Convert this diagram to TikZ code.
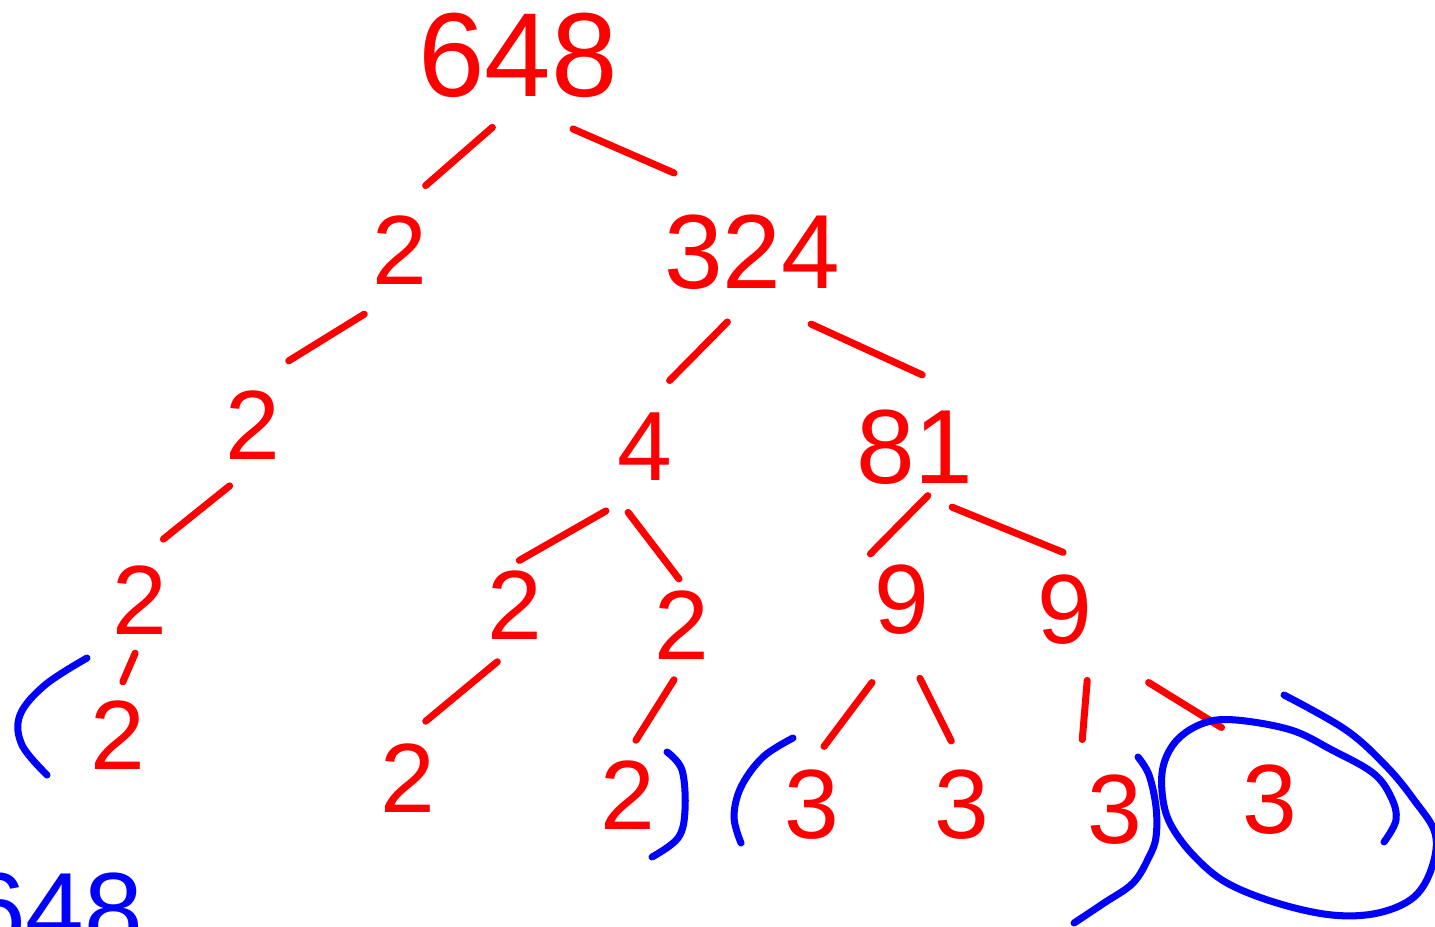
\documentclass[tikz,border=0pt]{standalone}
\usepackage{fontspec}
\setmainfont{Liberation Sans}
\usetikzlibrary{positioning}
\definecolor{pen}{RGB}{255,0,0}
\definecolor{ink}{RGB}{0,0,255}

\begin{document}
\begin{tikzpicture}[
  num/.style={text=pen, inner sep=2pt, font=\fontsize{28}{30}\selectfont},
  bignum/.style={num, font=\fontsize{34}{36}\selectfont},
  midnum/.style={num, font=\fontsize{30}{32}\selectfont},
  branch/.style={draw=pen, line width=2pt, line cap=round, shorten <=#1, shorten >=#1},
  branch/.default=2mm,
  ring/.style={draw=ink, line width=2pt, line cap=round, line join=round}
]
\useasboundingbox (0,0) rectangle (14.35,-9.27);

% factor tree
\node[bignum] (n648) at (5.18,-0.55) {648};
\node[num]    (n2a)  at (4.00,-2.50) {2};
\node[midnum] (n324) at (7.52,-2.52) {324};
\node[num]    (n2b)  at (2.53,-4.25) {2};
\node[num]    (n4)   at (6.45,-4.47) {4};
\node[midnum] (n81)  at (9.15,-4.47) {81};
\node[num]    (n2c)  at (1.40,-6.00) {2};
\node[num]    (n2d)  at (5.15,-6.05) {2};
\node[num]    (n2e)  at (6.82,-6.25) {2};
\node[num]    (n9a)  at (9.02,-6.00) {9};
\node[num]    (n9b)  at (10.65,-6.10) {9};
\node[num]    (n2f)  at (1.18,-7.35) {2};
\node[num]    (n2g)  at (4.08,-7.78) {2};
\node[num]    (n2h)  at (6.28,-7.95) {2};
\node[num]    (n3a)  at (8.12,-8.05) {3};
\node[num]    (n3b)  at (9.62,-8.05) {3};
\node[num]    (n3c)  at (11.15,-8.10) {3};
\node[num]    (n3d)  at (12.70,-8.00) {3};

\draw[branch=3.4mm] (n648.south) -- (n2a.north);
\draw[branch=8.5mm, shorten <=6mm] (n648.south) -- (n324.north);
\draw[branch=4.2mm] (n2a.south) -- (n2b.north);
\draw[branch=3.5mm] (n324.south) -- (n4.north);
\draw[branch=6.5mm] (n324.south) -- (n81.north east);
\draw[branch=3mm]   (n2b.south) -- (n2c.north);
\draw[branch=0.5mm, shorten <=4.5mm] (n4.south) -- (n2d.north);
\draw[branch=0.5mm, shorten <=3mm] (n4.south west) -- (n2e.north);
\draw[branch=0.5mm] (n81.-70) -- (n9a.north west);
\draw[branch=4mm]   (n81.south) -- (n9b.north east);
\draw[branch=1.2mm] (n2c.south) -- (n2f.north);
\draw[branch=2.3mm] (n2d.south) -- (n2g.north);
\draw[branch=1.5mm] (n2e.south) -- (n2h.north);
\draw[branch=2mm, shorten <=5mm] (n9a.south) -- (n3a.north);
\draw[branch=2.4mm, shorten <=4mm] (n9a.south) -- (n3b.north);
\draw[branch=2.8mm] (n9b.-60) -- (n3c.north west);
\draw[branch=5.7mm] (n9b.south east) -- (n3d.north);

% blue grouping marks
\draw[ring] plot[smooth, tension=0.6] coordinates {(0.87,-6.58) (0.45,-6.85) (0.20,-7.15) (0.22,-7.45) (0.47,-7.75)};
\draw[ring] plot[smooth, tension=0.6] coordinates {(6.67,-7.52) (6.82,-7.70) (6.85,-8.10) (6.78,-8.38) (6.52,-8.57)};
\draw[ring] plot[smooth, tension=0.6] coordinates {(7.93,-7.38) (7.63,-7.57) (7.41,-7.87) (7.34,-8.17) (7.41,-8.43)};
\draw[ring] plot[smooth, tension=0.6] coordinates {(11.38,-7.57) (11.49,-7.75) (11.56,-8.07) (11.56,-8.37) (11.49,-8.57) (11.33,-8.83) (11.04,-9.03) (10.74,-9.23)};
\draw[ring] plot[smooth, tension=0.6] coordinates {(13.84,-8.42) (13.96,-8.20) (13.91,-7.97) (13.73,-7.73) (13.32,-7.50) (12.91,-7.30) (12.36,-7.20) (12.04,-7.23) (11.77,-7.40) (11.63,-7.67) (11.63,-8.00) (11.72,-8.27) (11.95,-8.57) (12.27,-8.83) (12.77,-9.03) (13.32,-9.15) (13.78,-9.13) (14.14,-8.97) (14.32,-8.67) (14.35,-8.33) (14.14,-8.00) (13.87,-7.67) (13.46,-7.30) (12.84,-6.95)};

\node[text=ink, inner sep=0pt, font=\fontsize{30}{32}\selectfont, anchor=north] (sum) at (0.55,-8.72) {648};
\end{tikzpicture}
\end{document}
